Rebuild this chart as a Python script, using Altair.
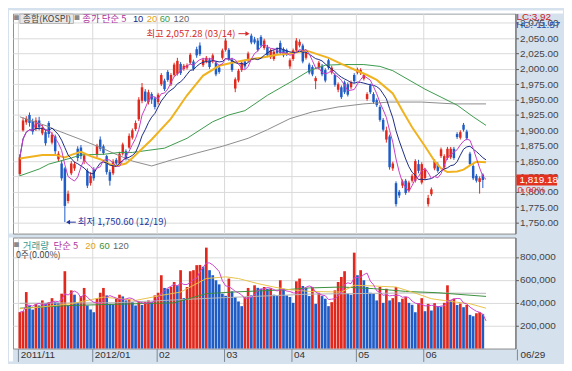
import altair as alt
import pandas as pd

# ---------------- data ----------------
opens = [
    1829, 1900, 1913, 1925, 1915, 1902, 1916, 1895, 1897, 1912,
    1880, 1890, 1853, 1846, 1838, 1785, 1830, 1838, 1870, 1872,
    1850, 1834, 1814, 1836, 1860, 1885, 1874, 1858, 1832, 1830,
    1852, 1846, 1862, 1866, 1872, 1888, 1902, 1918, 1948, 1963,
    1946, 1959, 1952, 1946, 1975, 1981, 1995, 1975, 1990, 1992,
    2008, 2000, 2002, 2010, 2012, 2032, 2038, 2006, 2012, 2015,
    2012, 2010, 2002, 2018, 2031, 2031, 2015, 1968, 1981, 1998,
    2012, 2014, 2054, 2048, 2046, 2052, 2034, 2035, 2019, 2016,
    2032, 2042, 2032, 2030, 2004, 2016, 2030, 2038, 2038, 2018,
    2007, 2003, 1980, 2002, 2005, 1998, 2014, 1994, 1990, 1966,
    1970, 1978, 1975, 1970, 1990, 1994, 1993, 1984, 1951, 1973,
    1959, 1949, 1938, 1917, 1885, 1890, 1838, 1814, 1800, 1810,
    1818, 1802, 1818, 1818, 1845, 1815, 1822, 1780, 1796, 1838,
    1845, 1858, 1840, 1855, 1856, 1870, 1894, 1888, 1909, 1898,
    1862, 1842, 1826, 1816, 1828, 1819.18]
highs = [
    1861, 1921, 1923, 1929, 1919, 1921, 1922, 1909, 1901, 1915,
    1897, 1893, 1866, 1851, 1840, 1802, 1850, 1849, 1874, 1876,
    1862, 1838, 1832, 1840, 1878, 1890, 1877, 1860, 1836, 1853,
    1855, 1865, 1880, 1869, 1895, 1903, 1916, 1954, 1977, 1967,
    1966, 1962, 1955, 1961, 1993, 1984, 1998, 1993, 2010, 2018,
    2011, 2008, 2009, 2026, 2015, 2036, 2043, 2018, 2021, 2018,
    2025, 2013, 2005, 2033, 2050, 2034, 2018, 1986, 2000, 2013,
    2015, 2028, 2057.28, 2052, 2050, 2055, 2049, 2039, 2033, 2031,
    2035, 2046, 2035, 2033, 2017, 2033, 2050, 2048, 2041, 2029,
    2010, 2006, 1988, 2013, 2008, 2001, 2017, 2005, 1993, 1978,
    1973, 1981, 1978, 1981, 1993, 2002, 2001, 1993, 1962, 1976,
    1962, 1952, 1941, 1920, 1906, 1893, 1849, 1817, 1803, 1820,
    1821, 1818, 1829, 1853, 1852, 1848, 1839, 1795, 1807, 1853,
    1848, 1872, 1861, 1873, 1873, 1873, 1897, 1900, 1912, 1901,
    1865, 1845, 1829, 1825, 1830, 1819.18]
lows = [
    1826, 1898, 1909, 1906, 1893, 1899, 1900, 1892, 1875, 1888,
    1877, 1861, 1850, 1818, 1750.6, 1781, 1827, 1834, 1850, 1853,
    1845, 1806, 1810, 1818, 1856, 1866, 1860, 1828, 1810, 1827,
    1843, 1843, 1859, 1851, 1870, 1885, 1899, 1915, 1944, 1946,
    1942, 1943, 1934, 1942, 1972, 1964, 1979, 1972, 1987, 1989,
    1990, 1997, 1999, 2007, 1997, 2018, 2021, 2003, 2009, 2000,
    2009, 1988, 1992, 2015, 2028, 2013, 1995, 1962, 1978, 1995,
    2000, 2011, 2040, 2040, 2028, 2035, 2031, 2019, 2016, 2013,
    2023, 2023, 2019, 2021, 2000, 2013, 2027, 2035, 2009, 2015,
    1991, 1988, 1967, 1999, 1988, 1978, 1999, 1991, 1971, 1962,
    1951, 1959, 1955, 1967, 1977, 1991, 1990, 1981, 1948, 1959,
    1943, 1938, 1914, 1898, 1880, 1836, 1834, 1776, 1790, 1806,
    1795, 1799, 1815, 1815, 1830, 1812, 1819, 1776, 1793, 1835,
    1831, 1855, 1837, 1852, 1853, 1852, 1886, 1885, 1898, 1884,
    1842, 1819, 1815, 1797, 1806, 1819.18]
closes = [
    1856, 1916, 1919, 1912, 1898, 1916, 1905, 1904, 1879, 1894,
    1893, 1866, 1862, 1822, 1777, 1797, 1846, 1845, 1855, 1858,
    1859, 1810, 1826, 1822, 1875, 1870, 1863, 1832, 1818, 1849,
    1846, 1862, 1877, 1854, 1891, 1900, 1912, 1950, 1970, 1948,
    1962, 1950, 1938, 1958, 1990, 1967, 1982, 1990, 2007, 2013,
    1993, 2005, 2006, 2023, 2000, 2022, 2024, 2015, 2018, 2003,
    2022, 1991, 1995, 2030, 2046, 2016, 1998, 1983, 1997, 2010,
    2004, 2025, 2043, 2043, 2031, 2038, 2046, 2022, 2030, 2028,
    2026, 2026, 2022, 2024, 2014, 2030, 2046, 2044, 2012, 2026,
    1994, 1991, 1985, 2010, 1991, 1981, 2002, 2002, 1974, 1975,
    1954, 1962, 1958, 1978, 1980, 1999, 1998, 1990, 1959, 1962,
    1946, 1941, 1917, 1901, 1900, 1840, 1846, 1780, 1794, 1817,
    1798, 1815, 1826, 1850, 1834, 1845, 1836, 1790, 1804, 1850,
    1834, 1869, 1858, 1870, 1870, 1855, 1889, 1897, 1901, 1887,
    1845, 1822, 1818, 1822, 1819.18, 1819.18]
volumes_k = [
    318, 326, 493, 376, 340, 390, 376, 420, 395, 405,
    440, 405, 400, 479, 675, 376, 508, 470, 405, 458,
    529, 376, 341, 317, 440, 487, 529, 464, 390, 385,
    435, 470, 455, 420, 430, 405, 376, 411, 380, 405,
    420, 405, 464, 487, 640, 529, 522, 537, 581, 552,
    684, 440, 537, 675, 684, 728, 730, 714, 881, 684,
    640, 596, 560, 479, 460, 611, 499, 449, 411, 370,
    449, 529, 464, 552, 530, 522, 537, 522, 525, 470,
    458, 596, 522, 464, 450, 399, 587, 611, 546, 530,
    458, 537, 390, 487, 458, 435, 370, 405, 508, 581,
    625, 675, 480, 470, 837, 640, 684, 596, 537, 487,
    479, 420, 537, 399, 522, 420, 440, 537, 405, 435,
    449, 399, 382, 317, 396, 440, 326, 390, 332, 396,
    370, 365, 399, 552, 420, 435, 380, 392, 361, 382,
    294, 282, 308, 317, 300, 0]

month_start_idx = [0, 23, 43, 64, 85, 105, 126]
month_labels = ["2011/11", "2012/01", "02", "03", "04", "05", "06"]
price_ticks = [1750, 1775, 1800, 1825, 1850, 1875, 1900, 1925, 1950, 1975,
               2000, 2025, 2050, 2075]
vol_ticks = [200000, 400000, 600000, 800000]
hi_date = "03/14"
lo_date = "12/19"
last_date = "06/29"
lc_text = "LC:3.92"
hc_text = "HC:-11.57"

# longer moving averages (need history before the window)
ma20_idx = [0, 7, 11, 14, 16, 19, 22, 25, 28, 30, 33, 35, 41, 47, 52, 57, 62, 66, 70, 75,
            80, 84, 89, 96, 100, 104, 108, 111, 116, 119, 122, 126, 129, 131, 133, 136, 138, 140, 142, 145]
ma20_val = [1854, 1860, 1860, 1856, 1860, 1865, 1858, 1853, 1845, 1842, 1846, 1855, 1885, 1919, 1957, 1989, 2005, 2010, 2014, 2018,
            2023, 2025, 2030, 2018, 2008, 1999, 1990, 1982, 1960, 1932, 1905, 1874, 1850, 1838, 1832, 1833, 1836, 1843, 1849, 1848]
ma60_idx = [0, 6, 9, 16, 19, 26, 31, 35, 45, 52, 60, 65, 70, 77, 84, 90, 95, 100, 107, 112,
            116, 126, 131, 136, 141, 145]
ma60_val = [1826, 1837, 1845, 1855, 1860, 1861, 1864, 1864, 1871, 1887, 1914, 1925, 1932, 1957, 1978, 1997, 2006, 2007, 2007, 2004,
            1997, 1967, 1954, 1941, 1922, 1908]
ma120_idx = [0, 9, 11, 19, 26, 29, 35, 41, 48, 55, 63, 71, 77, 84, 91, 99, 107, 115, 125, 135, 145]
ma120_val = [1922, 1906, 1901, 1885, 1870, 1863, 1850, 1842, 1853, 1863, 1874, 1887, 1901, 1919, 1930, 1938, 1943, 1946, 1946, 1943, 1943]

vma20_idx = [0, 6, 16, 26, 36, 44, 50, 58, 64, 68, 74, 79, 83, 90, 100, 104, 110, 117, 122, 128, 134, 140, 145]
vma20_val = [347, 361, 391, 449, 420, 464, 493, 611, 626, 611, 567, 537, 517, 499, 493, 552, 546, 537, 493, 435, 411, 391, 352]
vma60_idx = [0, 16, 36, 48, 58, 66, 82, 90, 100, 110, 120, 130, 145]
vma60_val = [352, 376, 391, 399, 479, 493, 512, 529, 537, 523, 499, 487, 455]
vma120_idx = [0, 30, 60, 90, 120, 145]
vma120_val = [395, 400, 440, 475, 485, 482]

# ---------------- styling ----------------
W, HP, HV = 507, 222, 112
UP, DOWN = "#e2281c", "#1f5cc6"
VUP, VDOWN = "#dc2a1c", "#2e67c9"
STRIP = "#d6e1ee"
GRID = "#dadada"
NUM = "Liberation Sans Narrow, Liberation Sans, Arial"
KR = "Noto Sans CJK KR"
MA5_C, MA10_C, MA20_C, MA60_C, MA120_C = "#c43dc4", "#1b2a86", "#f0b21e", "#3c9a4c", "#8c8c8c"
VMA5_C, VMA20_C, VMA60_C, VMA120_C = "#cf45cf", "#e8c24a", "#3a8f3a", "#b4b4b4"

n = len(closes)
df = pd.DataFrame({
    "idx": list(range(n)),
    "open": opens, "high": highs, "low": lows, "close": closes,
    "volume": [v * 1000 for v in volumes_k],
})
df["dir"] = ["up" if c >= o else "down" for o, c in zip(opens, closes)]
df["vdir"] = ["up"] + ["up" if volumes_k[i] >= volumes_k[i - 1] else "down" for i in range(1, n)]

def line_df(ix, vals, mult=1):
    return pd.DataFrame({"idx": ix, "v": [v * mult for v in vals]})

one = pd.DataFrame({"k": [0]})

xscale = alt.Scale(domain=[-0.6, 152.6], nice=False, zero=False)
tick_vals = [m - 0.5 for m in month_start_idx]
label_expr = ("[" + ",".join("'%s'" % s for s in month_labels) + "][indexof(["
              + ",".join(str(t) for t in tick_vals) + "], datum.value)]")

xp_axis = alt.Axis(values=tick_vals, labels=False, ticks=False, domain=False,
                   grid=True, gridColor=GRID, title=None)
xv_axis = alt.Axis(values=tick_vals, labelExpr=label_expr, grid=True, gridColor=GRID,
                   domain=False, tickSize=13, tickColor="#7a8796", labelAlign="left",
                   labelBaseline="top", labelPadding=-12, labelOffset=2, labelFont=NUM,
                   labelFontSize=10, labelColor="#333333", labelFlush=False,
                   labelOverlap=False, title=None)

def XP(field="idx"):
    return alt.X(field, type="quantitative", scale=xscale, axis=xp_axis, title=None)

def XV(field="idx"):
    return alt.X(field, type="quantitative", scale=xscale, axis=xv_axis, title=None)

pscale = alt.Scale(domain=[1732, 2090], nice=False, zero=False)
paxis = alt.Axis(orient="right", values=price_ticks, format=",.2f", grid=True, gridColor=GRID,
                 tickSize=3, tickColor="#555555", domainColor="#666666", labelFont=NUM,
                 labelFontSize=10, labelColor="#444444", labelPadding=1, labelOverlap=False,
                 title=None)
vscale = alt.Scale(domain=[0, 969000], nice=False, zero=True)
vaxis = alt.Axis(orient="right", values=vol_ticks, format=",d", grid=True, gridColor=GRID,
                 tickSize=3, tickColor="#555555", domainColor="#666666", labelFont=NUM,
                 labelFontSize=10, labelColor="#444444", labelPadding=1, labelOverlap=False,
                 title=None)

def YP(field):
    return alt.Y(field, type="quantitative", scale=pscale, axis=paxis, title=None)

def YV(field):
    return alt.Y(field, type="quantitative", scale=vscale, axis=vaxis, title=None)

cscale = alt.Scale(domain=["up", "down"], range=[UP, DOWN])
vcscale = alt.Scale(domain=["up", "down"], range=[VUP, VDOWN])

def label(txt, x, y, color, size=9.5, font=KR, align="left"):
    return alt.Chart(one).mark_text(text=txt, align=align, baseline="middle", font=font,
                                    fontSize=size, color=color, clip=False).encode(
        x=alt.value(x), y=alt.value(y))

def box(x, x2, y, y2, fill, stroke=None):
    kw = dict(fill=fill, clip=False)
    if stroke:
        kw["stroke"] = stroke
        kw["strokeWidth"] = 1
    return alt.Chart(one).mark_rect(**kw).encode(
        x=alt.value(x), x2=alt.value(x2), y=alt.value(y), y2=alt.value(y2))

# ---------------- price panel ----------------
wicks = alt.Chart(df).mark_rule(strokeWidth=1).encode(
    x=XP(), y=YP("low"), y2="high:Q",
    color=alt.Color("dir:N", scale=cscale, legend=None))
bodies = alt.Chart(df).mark_bar(size=2.5).encode(
    x=XP(), y=YP("open"), y2="close:Q",
    color=alt.Color("dir:N", scale=cscale, legend=None))

ma5 = alt.Chart(df).transform_window(
    ma="mean(close)", frame=[-4, 0], sort=[alt.SortField("idx", order="ascending")]
).mark_line(color=MA5_C, strokeWidth=1).encode(x=XP(), y=YP("ma"))
ma10 = alt.Chart(df).transform_window(
    ma="mean(close)", frame=[-9, 0], sort=[alt.SortField("idx", order="ascending")]
).mark_line(color=MA10_C, strokeWidth=1).encode(x=XP(), y=YP("ma"))
ma20 = alt.Chart(line_df(ma20_idx, ma20_val)).mark_line(color=MA20_C, strokeWidth=2).encode(x=XP(), y=YP("v"))
ma60 = alt.Chart(line_df(ma60_idx, ma60_val)).mark_line(color=MA60_C, strokeWidth=1).encode(x=XP(), y=YP("v"))
ma120 = alt.Chart(line_df(ma120_idx, ma120_val)).mark_line(color=MA120_C, strokeWidth=1).encode(x=XP(), y=YP("v"))

imax = max(range(n), key=lambda i: highs[i])
imin = min(range(n), key=lambda i: lows[i])
hi_df = pd.DataFrame({"idx": [imax], "p": [highs[imax]],
                      "t": ["최고 %s (%s)" % (format(highs[imax], ",.2f"), hi_date)]})
lo_df = pd.DataFrame({"idx": [imin], "p": [lows[imin]],
                      "t": ["최저 %s (%s)" % (format(lows[imin], ",.2f"), lo_date)]})
HI_C, LO_C = "#d42a2a", "#23359e"
hi_text = alt.Chart(hi_df).mark_text(align="right", baseline="middle", dx=-16, font=KR,
                                      fontSize=9.5, color=HI_C).encode(x=XP(), y=YP("p"), text="t:N")
hi_line = alt.Chart(hi_df).transform_calculate(a="datum.idx - 4", b="datum.idx - 1.2").mark_rule(
    color=HI_C, strokeWidth=1).encode(x=XP("a"), x2="b:Q", y=YP("p"))
hi_head = alt.Chart(hi_df).transform_calculate(h="datum.idx - 1.2").mark_point(
    shape="triangle-right", filled=True, size=22, color=HI_C, opacity=1).encode(x=XP("h"), y=YP("p"))
lo_text = alt.Chart(lo_df).mark_text(align="left", baseline="middle", dx=13, font=KR,
                                      fontSize=9.5, color=LO_C).encode(x=XP(), y=YP("p"), text="t:N")
lo_line = alt.Chart(lo_df).transform_calculate(a="datum.idx + 1.0", b="datum.idx + 3.4").mark_rule(
    color=LO_C, strokeWidth=1).encode(x=XP("a"), x2="b:Q", y=YP("p"))
lo_head = alt.Chart(lo_df).transform_calculate(h="datum.idx + 1.0").mark_point(
    shape="triangle-left", filled=True, size=22, color=LO_C, opacity=1).encode(x=XP("h"), y=YP("p"))

p_last = closes[-1]
pct = (closes[-1] - closes[-2]) / closes[-2] * 100
last_df = pd.DataFrame({"p": [p_last], "t": [format(p_last, ",.2f")], "c": ["%.2f%%" % pct]})
last_box = alt.Chart(last_df).transform_calculate(top="datum.p + 9", bot="datum.p - 9").mark_rect(
    color="#e3311f", clip=False).encode(x=alt.value(W + 1), x2=alt.value(W + 42), y=YP("top"), y2="bot:Q")
last_txt = alt.Chart(last_df).mark_text(align="left", baseline="middle", font=NUM, fontSize=10,
                                         color="white", clip=False).encode(
    x=alt.value(W + 4), y=YP("p"), text="t:N")
last_pct = alt.Chart(last_df).mark_text(align="left", baseline="middle", font=NUM, fontSize=10,
                                         dy=10, color="#e0403a", clip=False).encode(
    x=alt.value(W + 2), y=YP("p"), text="c:N")

price_deco = [
    box(-4, 0, -3, HP, "white"),
    box(-4, W + 48, -3, 0, "white"),
    label("■", 3.5, 5, "#8a8a8a", size=6, align="center"),
    box(7, 61, 0.5, 10, "#e8e8e8", stroke="#b5b5b5"),
    label("종합(KOSPI)", 10, 5.3, "#444444", size=9),
    label("■", 64.5, 5, "#8a8a8a", size=6, align="center"),
    label("종가 단순 5", 70, 5.3, "#b0339f", size=9.5),
    label("10", 121, 5.3, MA10_C, size=9.5, font=NUM),
    label("20", 135, 5.3, "#e0a21a", size=9.5, font=NUM),
    label("60", 148, 5.3, MA60_C, size=9.5, font=NUM),
    label("120", 162, 5.3, "#666666", size=9.5, font=NUM),
    label(lc_text, W + 1, 4, "#cc2222", size=10, font=NUM),
    label(hc_text, W + 0.5, 11.5, "#1f4fb0", size=10, font=NUM),
]

price = alt.layer(
    wicks, bodies, ma120, ma60, ma20, ma10, ma5,
    hi_line, hi_head, hi_text, lo_line, lo_head, lo_text,
    last_box, last_txt, last_pct, *price_deco
).properties(width=W, height=HP)

# ---------------- volume panel ----------------
vbars = alt.Chart(df).mark_bar(size=2.7).encode(
    x=XV(), y=YV("volume"), color=alt.Color("vdir:N", scale=vcscale, legend=None))
vma5 = alt.Chart(df).transform_window(
    ma="mean(volume)", frame=[-4, 0], sort=[alt.SortField("idx", order="ascending")]
).mark_line(color=VMA5_C, strokeWidth=1).encode(x=XV(), y=YV("ma"))
vma20 = alt.Chart(line_df(vma20_idx, vma20_val, 1000)).mark_line(color=VMA20_C, strokeWidth=1).encode(x=XV(), y=YV("v"))
vma60 = alt.Chart(line_df(vma60_idx, vma60_val, 1000)).mark_line(color=VMA60_C, strokeWidth=1).encode(x=XV(), y=YV("v"))
vma120 = alt.Chart(line_df(vma120_idx, vma120_val, 1000)).mark_line(color=VMA120_C, strokeWidth=1).encode(x=XV(), y=YV("v"))

vol_deco = [
    box(-4, 0, 0, HV + 13, "white"),
    label("■", 3.5, 8, "#8a8a8a", size=6, align="center"),
    label("거래량", 10, 8.3, "#2e9a92", size=9.5),
    label("단순 5", 41, 8.3, "#b0339f", size=9.5),
    label("20", 73, 8.3, "#e0a21a", size=9.5, font=NUM),
    label("60", 87, 8.3, VMA60_C, size=9.5, font=NUM),
    label("120", 101, 8.3, "#666666", size=9.5, font=NUM),
    label("%s주(%.2f%%)" % (format(int(volumes_k[-1] * 1000), ","), 0.0), 3, 17.5, "#444444", size=9),
    alt.Chart(one).mark_rule(color="#7a8796", strokeWidth=1, clip=False).encode(
        x=alt.value(W + 2), y=alt.value(HV + 1), y2=alt.value(HV + 12)),
    label(last_date, W + 5, HV + 6.5, "#333333", size=10, font=NUM),
]

volume = alt.layer(vbars, vma120, vma60, vma20, vma5, *vol_deco).properties(width=W, height=HV)

chart = alt.vconcat(price, volume, spacing=2).properties(
    padding={"left": 0, "top": 0, "right": 0, "bottom": 0}
).configure(background=STRIP).configure_view(fill="white", stroke="#8c8c8c")

chart.save("out.html", embed_options={"renderer": "svg", "actions": False})
